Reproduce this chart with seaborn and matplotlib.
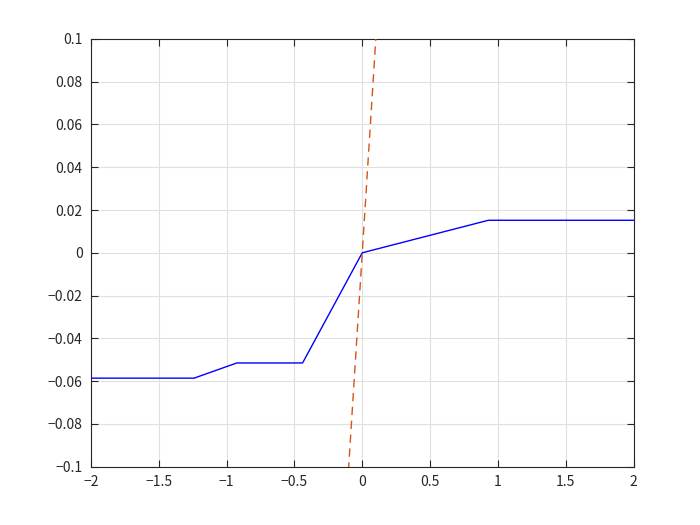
import matplotlib
matplotlib.use("Agg")
import matplotlib.pyplot as plt
import seaborn as sns
import pandas as pd

# Blue piecewise line
blue_x = [-2.0, -1.24, -0.925, -0.44, 0.0, 0.93, 2.0]
blue_y = [-0.0586, -0.0586, -0.0515, -0.0515, 0.0, 0.0152, 0.0152]
# Red dashed line (y = x)
red_x = [-0.2, 0.2]
red_y = [-0.2, 0.2]

xticks = [-2, -1.5, -1, -0.5, 0, 0.5, 1, 1.5, 2]
yticks = [-0.1, -0.08, -0.06, -0.04, -0.02, 0, 0.02, 0.04, 0.06, 0.08, 0.1]

sns.set_style("white")
plt.rcParams['font.family'] = ['Noto Sans CJK JP', 'DejaVu Sans']
plt.rcParams['axes.unicode_minus'] = True

fig = plt.figure(figsize=(7, 5.25), dpi=100)
ax = fig.add_axes([0.13, 0.111, 0.775, 0.815])

df_b = pd.DataFrame({"x": blue_x, "y": blue_y})
df_r = pd.DataFrame({"x": red_x, "y": red_y})
sns.lineplot(data=df_b, x="x", y="y", ax=ax, color="#0000FF", lw=1.0, sort=False, zorder=3)
sns.lineplot(data=df_r, x="x", y="y", ax=ax, color="#D95319", lw=1.0, sort=False,
             zorder=3, dashes=False, linestyle=(0, (6, 4)))

ax.set_xlim(-2, 2)
ax.set_ylim(-0.1, 0.1)
ax.set_xticks(xticks)
ax.set_yticks(yticks)
ax.set_xticklabels([f"{t:g}".replace("-", "\u2212") for t in xticks])
ax.set_yticklabels([f"{t:g}".replace("-", "\u2212") for t in yticks])
ax.set_xlabel("")
ax.set_ylabel("")
ax.grid(True, color="#E0E0E0", lw=0.8)
ax.set_axisbelow(True)
for s in ax.spines.values():
    s.set_visible(True)
    s.set_color("#262626")
    s.set_linewidth(0.8)
ax.tick_params(direction="in", length=5, width=0.8, colors="#262626",
               labelsize=10, top=True, right=True, bottom=True, left=True,
               labeltop=False, labelright=False, pad=6)

fig.savefig("out.png", dpi=100, facecolor="white")
